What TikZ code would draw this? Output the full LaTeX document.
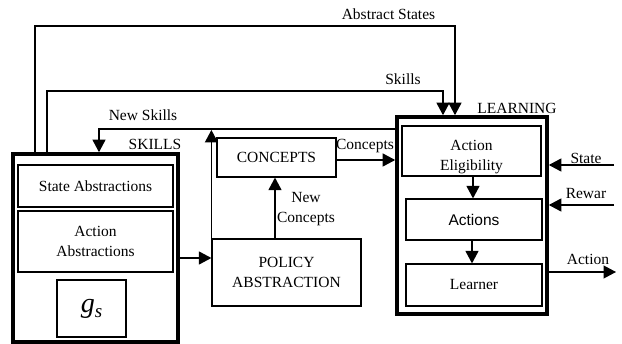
\documentclass[tikz,border=0pt]{standalone}
\usepackage{fontspec}
\setmainfont{Liberation Serif}
\newfontfamily\arialf{Liberation Sans}
\usetikzlibrary{arrows.meta,calc}
\begin{document}
\begin{tikzpicture}[x=1pt,y=-1pt,
  every node/.style={font=\fontsize{15.5}{20}\selectfont},
  box/.style={draw,line width=1.2pt,inner sep=0pt,align=center},
  bigbox/.style={draw,line width=3.6pt,inner sep=0pt},
  arr/.style={line width=1.2pt,-{Triangle[length=12.5pt,width=13pt]}},
  lbl/.style={inner sep=0pt,align=center}]
\useasboundingbox (0,0) rectangle (622,344);
% containers
\node[bigbox,minimum width=165pt,minimum height=188pt] (skills) at (95.5,248) {};
\node[bigbox,minimum width=150pt,minimum height=197pt] (learn) at (472,215.5) {};
% skills content
\node[box,minimum width=155pt,minimum height=42pt] (stateabs) at (95.5,186) {State Abstractions};
\node[box,minimum width=155pt,minimum height=61pt] (actabs) at (95.5,241.5) {Action\\Abstractions};
\node[box,minimum width=69pt,minimum height=57pt] (gs) at (91.5,308.5) {{\fontsize{28}{28}\selectfont\itshape g\raisebox{-5pt}{\fontsize{19}{19}\selectfont s}}};
% middle
\node[box,minimum width=149pt,minimum height=67pt] (policy) at (286.5,272.5) {POLICY\\ABSTRACTION};
\node[box,minimum width=119pt,minimum height=39pt] (concepts) at (276.5,157.5) {CONCEPTS};
% learning content
\node[box,minimum width=139pt,minimum height=50pt] (elig) at (471.5,151) {};
\begin{scope}
\clip (elig.south west) rectangle (elig.north east);
\node[lbl] (eligtext) at (471.5,157) {Action\\Eligibility};
\end{scope}
\node[box,minimum width=136pt,minimum height=41pt] (actions) at (474,219.5) {\arialf Actions};
\node[box,minimum width=136pt,minimum height=42pt] (learner) at (474,285) {Learner};
% coordinates
\coordinate (as1) at (35,26);
\coordinate (as2) at (455,26);
\coordinate (sk1) at (47,91);
\coordinate (sk2) at (443,91);
\coordinate (ns) at (99,129);
\coordinate (sp) at (0,258);
\coordinate (pc) at (275,0);
\coordinate (cl) at (0,160);
\coordinate (ea) at (473,0);
\coordinate (al) at (472,0);
\coordinate (st) at (614,165);
\coordinate (rw) at (614,205);
\coordinate (ac) at (616,272);
% connectors
\draw[arr] (skills.north -| as1) |- (as2) -- (learn.north -| as2);
\draw[arr] (skills.north -| sk1) |- (sk2) -- (learn.north -| sk2);
\draw[arr] (learn.west |- ns) -| (skills.north -| ns);
\draw[arr] (policy.north west) -- ($(policy.north west |- ns)+(0,1)$);
\draw[arr] (skills.east |- sp) -- (policy.west |- sp);
\draw[arr] (policy.north -| pc) -- (concepts.south -| pc);
\draw[arr] (concepts.east |- cl) -- (learn.west |- cl);
\draw[arr] (elig.south -| ea) -- (actions.north -| ea);
\draw[arr] (actions.south -| al) -- (learner.north -| al);
\draw[arr] (st) -- (learn.east |- st);
\draw[arr] (rw) -- (learn.east |- rw);
\draw[arr] (learn.east |- ac) -- (ac);
% labels
\node[lbl] (lAS) at (388.5,14) {Abstract States};
\node[lbl] (lSk) at (403,79) {Skills};
\node[lbl] (lNS) at (143,115) {New Skills};
\node[lbl] (lSK) at (155,144) {SKILLS};
\node[lbl] (lLE) at (517,108) {LEARNING};
\node[lbl] (lCo) at (365,146) {Concepts};
\node[lbl] (lNC) at (306,209) {New\\Concepts};
\node[lbl] (lSt) at (586,158) {State};
\node[lbl] (lRw) at (586,194) {Rewar};
\node[lbl] (lAc) at (588,259) {Action};
\end{tikzpicture}
\end{document}
